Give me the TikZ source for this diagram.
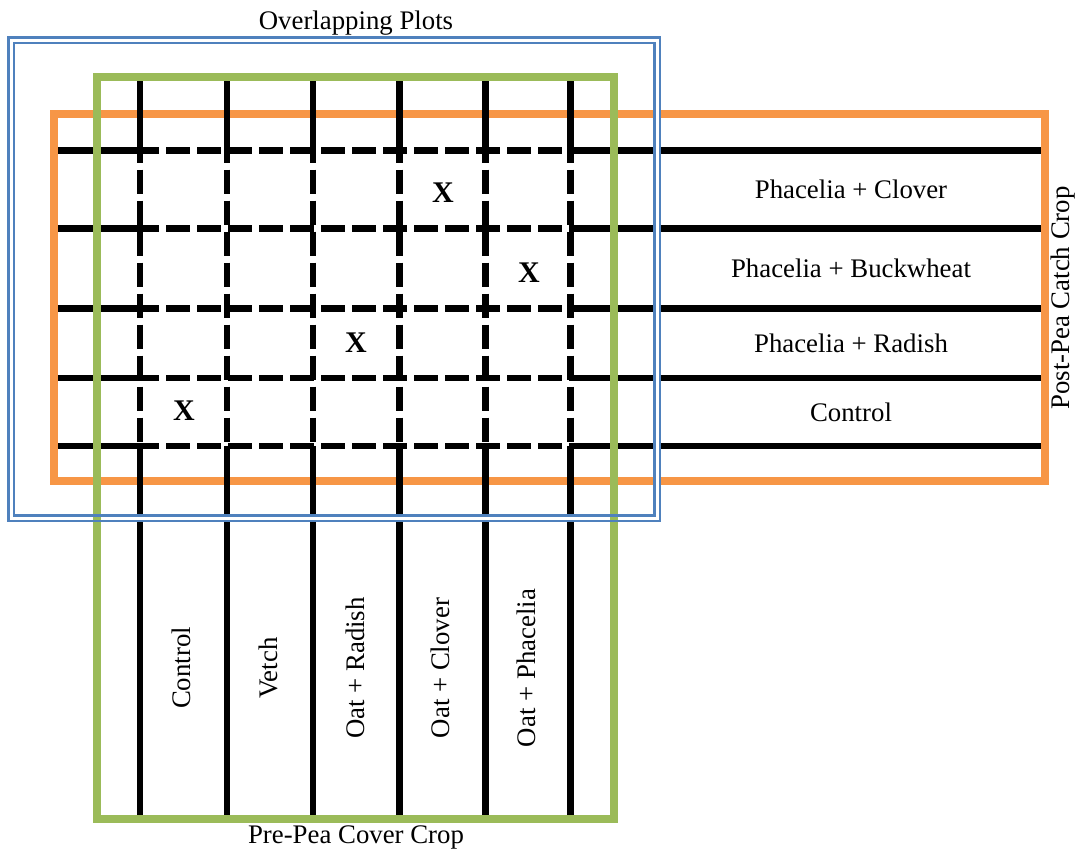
\documentclass[tikz,border=0pt]{standalone}
\usepackage{fontspec}
\setmainfont{Liberation Serif}
\definecolor{pregreen}{HTML}{9BBB59}
\definecolor{postorange}{HTML}{F79646}
\definecolor{overlapblue}{HTML}{4F81BD}
\tikzset{
    plotline/.style = {
        draw=black,
        line width=3.25pt
    },
    hdashline/.style = {
        plotline,
        dash pattern=on 12pt off 3.5pt,
        dash phase=2.5pt
    },
    vdashline/.style = {
        plotline,
        dash pattern=on 12pt off 3.5pt,
        dash phase=6pt
    },
    prebox/.style = {
        draw=pregreen,
        line width=3.75pt
    },
    postbox/.style = {
        draw=postorange,
        line width=4pt
    },
    overlapbox/.style = {
        draw=overlapblue,
        line width=1.3pt
    },
    croplabel/.style = {
        font=\fontsize{13.4}{16}\selectfont,
        inner sep=0pt
    },
    plotmark/.style = {
        font=\fontsize{15}{18}\selectfont\bfseries,
        inner sep=0pt
    }
}

\begin{document}
\begin{tikzpicture}[x=0.5pt, y=-0.5pt]
    \useasboundingbox (0,0) rectangle (1079,852);

    % post-pea catch crop frame
    \draw [postbox] (54,114) rectangle (1045,481);

    % plot grid
    \foreach \y in {150.5,228.5,308.5,378,446} {
        \draw [plotline] (58,\y) -- (140,\y);
        \draw [hdashline] (140,\y) -- (570.5,\y);
        \draw [plotline] (570.5,\y) -- (1041,\y);
    }
    \foreach \x in {140,227,313,399.5,485.5,570.5} {
        \draw [plotline] (\x,79) -- (\x,150.5);
        \draw [vdashline] (\x,150.5) -- (\x,446);
        \draw [plotline] (\x,446) -- (\x,817);
    }

    % overlapping plots frame
    \draw [white, line width=1.5pt] (11,40) rectangle (657,518);
    \draw [prebox] (97,77) rectangle (614,819);
    \foreach \d in {-2.8,2.8}
        \draw [overlapbox] (11+\d,40+\d) rectangle (657-\d,518-\d);

    % treatments
    \foreach \name/\y [count=\i] in {Phacelia + Clover/189.5, Phacelia + Buckwheat/268.5,
                                     Phacelia + Radish/343, Control/412}
        \node [croplabel] (post-\i) at (851,\y) {\name};
    \foreach \name/\x [count=\i] in {Control/181.5, Vetch/268, Oat + Radish/355,
                                     Oat + Clover/440.5, Oat + Phacelia/526}
        \node [croplabel, rotate=90] (pre-\i) at (\x,668) {\name};

    % sampled plots
    \foreach \x/\y [count=\i] in {443/193, 529/273, 356/343, 184/411}
        \node [plotmark] (mark-\i) at (\x,\y) {X};

    % titles
    \node [croplabel] (overlap-title) at (356,23) {Overlapping Plots};
    \node [croplabel] (pre-title) at (356,837) {Pre-Pea Cover Crop};
    \node [croplabel, rotate=90] (post-title) at (1063,298) {Post-Pea Catch Crop};
\end{tikzpicture}
\end{document}
